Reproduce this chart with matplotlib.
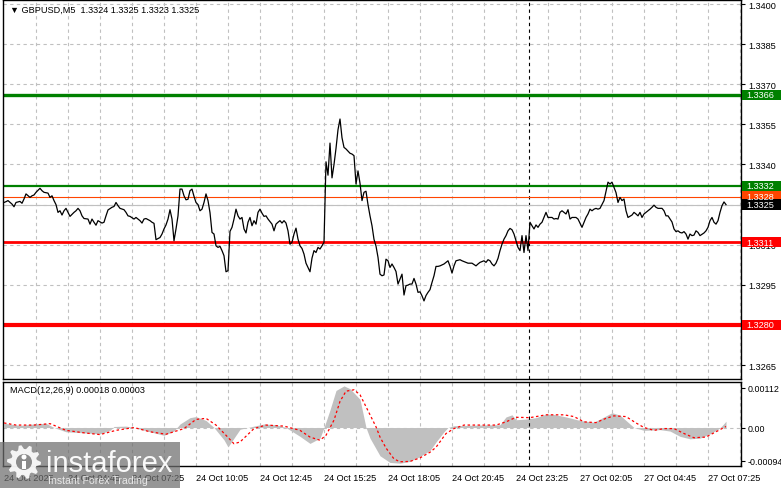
import numpy as np
import matplotlib
matplotlib.use('Agg')
import matplotlib.pyplot as plt
from matplotlib.patches import Rectangle, Circle, Polygon
from matplotlib.transforms import blended_transform_factory

plt.rcParams['font.family'] = ['Liberation Sans', 'DejaVu Sans']

# ---- data (GBPUSD M5, close line) ----
close_pts = [
    (0, 1.33258), (1, 1.33261), (2, 1.33265), (4, 1.33252), (5, 1.33242), (6, 1.33258), (8, 1.33262),
    (9, 1.33255), (10, 1.33271), (11, 1.33290), (13, 1.33277), (14, 1.33283), (15, 1.33286), (16, 1.33296),
    (18, 1.33311), (19, 1.33302), (20, 1.33296), (22, 1.33293), (23, 1.33277), (24, 1.33283), (25, 1.33265),
    (26, 1.33250), (27, 1.33221), (28, 1.33227), (29, 1.33211), (30, 1.33227), (31, 1.33236), (32, 1.33221),
    (33, 1.33206), (35, 1.33221), (36, 1.33227), (37, 1.33236), (38, 1.33227), (39, 1.33208), (40, 1.33198),
    (42, 1.33196), (43, 1.33177), (44, 1.33196), (45, 1.33184), (46, 1.33173), (47, 1.33190), (49, 1.33181),
    (50, 1.33184), (51, 1.33208), (52, 1.33230), (54, 1.33240), (55, 1.33243), (56, 1.33258), (57, 1.33246),
    (58, 1.33236), (60, 1.33231), (61, 1.33221), (62, 1.33208), (63, 1.33206), (65, 1.33196), (66, 1.33202),
    (68, 1.33190), (69, 1.33181), (70, 1.33196), (71, 1.33198), (73, 1.33190), (74, 1.33184), (75, 1.33180),
    (76, 1.33119), (78, 1.33127), (79, 1.33140), (80, 1.33159), (81, 1.33174), (82, 1.33196), (83, 1.33231),
    (84, 1.33196), (85, 1.33115), (86, 1.33159), (87, 1.33208), (88, 1.33308), (89, 1.33308), (90, 1.33283),
    (91, 1.33268), (92, 1.33270), (93, 1.33302), (94, 1.33308), (95, 1.33281), (96, 1.33258), (97, 1.33250),
    (98, 1.33227), (99, 1.33233), (100, 1.33258), (101, 1.33290), (102, 1.33265), (103, 1.33220), (104, 1.33146),
    (105, 1.33140), (106, 1.33096), (107, 1.33090), (108, 1.33094), (109, 1.33078), (110, 1.33059), (111, 1.32999),
    (112, 1.33003), (113, 1.33150), (114, 1.33165), (115, 1.33196), (116, 1.33233), (117, 1.33208), (118, 1.33196),
    (119, 1.33202), (120, 1.33159), (121, 1.33144), (122, 1.33184), (123, 1.33202), (124, 1.33171), (125, 1.33190),
    (126, 1.33177), (127, 1.33221), (128, 1.33233), (129, 1.33218), (130, 1.33206), (131, 1.33208), (132, 1.33196),
    (134, 1.33177), (135, 1.33152), (136, 1.33177), (137, 1.33184), (138, 1.33190), (139, 1.33181), (140, 1.33190),
    (141, 1.33181), (142, 1.33152), (143, 1.33102), (144, 1.33109), (145, 1.33140), (146, 1.33162), (147, 1.33121),
    (148, 1.33096), (149, 1.33086), (150, 1.33065), (151, 1.33031), (152, 1.33015), (153, 1.32999), (154, 1.33050),
    (155, 1.33078), (156, 1.33071), (157, 1.33090), (158, 1.33084), (159, 1.33096), (160, 1.33109), (161, 1.33410),
    (162, 1.33360), (163, 1.33480), (164, 1.33350), (165, 1.33400), (166, 1.33460), (167, 1.33530), (168, 1.33570),
    (169, 1.33500), (170, 1.33464), (171, 1.33458), (172, 1.33450), (173, 1.33442), (174, 1.33439), (175, 1.33433),
    (176, 1.33327), (177, 1.33376), (178, 1.33330), (179, 1.33265), (180, 1.33296), (181, 1.33300), (182, 1.33250),
    (183, 1.33208), (184, 1.33171), (185, 1.33120), (186, 1.33095), (187, 1.33053), (188, 1.32990), (189, 1.32984),
    (190, 1.32987), (191, 1.33046), (192, 1.33040), (193, 1.33015), (194, 1.33028), (195, 1.33015), (196, 1.33000),
    (197, 1.32953), (198, 1.32972), (199, 1.32990), (200, 1.32912), (201, 1.32947), (202, 1.32949), (203, 1.32953),
    (204, 1.32953), (205, 1.32974), (206, 1.32953), (207, 1.32922), (208, 1.32924), (209, 1.32909), (210, 1.32890),
    (211, 1.32910), (212, 1.32922), (213, 1.32932), (214, 1.32959), (215, 1.32984), (216, 1.33019), (217, 1.33019),
    (218, 1.33021), (220, 1.33028), (221, 1.33034), (222, 1.33040), (223, 1.33020), (224, 1.32994), (225, 1.33021),
    (226, 1.33040), (228, 1.33044), (229, 1.33040), (231, 1.33034), (232, 1.33031), (234, 1.33031), (236, 1.33021),
    (237, 1.33028), (238, 1.33034), (240, 1.33040), (241, 1.33034), (242, 1.33044), (243, 1.33040), (244, 1.33028),
    (245, 1.33021), (246, 1.33031), (247, 1.33049), (248, 1.33078), (249, 1.33102), (250, 1.33121), (251, 1.33134),
    (252, 1.33152), (253, 1.33161), (254, 1.33156), (255, 1.33140), (256, 1.33115), (257, 1.33090), (258, 1.33078),
    (259, 1.33134), (260, 1.33071), (261, 1.33134), (262, 1.33078), (263, 1.33184), (264, 1.33171), (265, 1.33159),
    (266, 1.33174), (267, 1.33165), (268, 1.33177), (269, 1.33184), (270, 1.33202), (271, 1.33221), (272, 1.33202),
    (273, 1.33202), (274, 1.33202), (275, 1.33196), (276, 1.33198), (277, 1.33196), (278, 1.33221), (279, 1.33227),
    (281, 1.33215), (282, 1.33231), (283, 1.33196), (284, 1.33202), (286, 1.33202), (287, 1.33196), (289, 1.33165),
    (290, 1.33184), (291, 1.33202), (292, 1.33215), (293, 1.33233), (294, 1.33227), (295, 1.33233), (296, 1.33236),
    (297, 1.33233), (298, 1.33236), (300, 1.33265), (301, 1.33300), (302, 1.33334), (303, 1.33327), (304, 1.33334),
    (305, 1.33315), (306, 1.33295), (307, 1.33258), (308, 1.33277), (309, 1.33265), (310, 1.33271), (311, 1.33227),
    (312, 1.33202), (314, 1.33211), (315, 1.33221), (316, 1.33215), (317, 1.33208), (318, 1.33221), (319, 1.33202),
    (320, 1.33215), (321, 1.33221), (323, 1.33233), (324, 1.33240), (325, 1.33248), (326, 1.33240), (327, 1.33236),
    (329, 1.33236), (330, 1.33227), (331, 1.33208), (332, 1.33208), (334, 1.33185), (335, 1.33159), (336, 1.33149),
    (337, 1.33152), (338, 1.33146), (339, 1.33144), (340, 1.33149), (341, 1.33140), (342, 1.33121), (343, 1.33140),
    (344, 1.33134), (345, 1.33136), (346, 1.33152), (347, 1.33146), (348, 1.33134), (350, 1.33144), (351, 1.33152),
    (352, 1.33165), (353, 1.33190), (354, 1.33202), (355, 1.33184), (356, 1.33177), (357, 1.33190), (358, 1.33221),
    (359, 1.33246), (360, 1.33260), (361, 1.33250),
]

macd_hist = [
    (0, 0.00012), (8, 0.00006), (15, 0.00010), (21, 0.00012), (25, 0.0), (31, -0.00012), (40, -0.00015),
    (48, -0.00018), (53, -0.00008), (55, 0.00003), (61, 0.00004), (65, 0.0), (73, -0.00012), (80, -0.00022),
    (85, -0.00010), (88, 0.00010), (93, 0.00028), (96, 0.00031), (101, 0.00020), (105, 0.0), (110, -0.00035),
    (112, -0.00055), (115, -0.00030), (118, -0.00005), (125, 0.00004), (130, 0.00010), (136, 0.00008), (141, 0.0),
    (148, -0.00025), (153, -0.00045), (158, -0.00030), (160, 0.0), (163, 0.00050), (166, 0.00105), (170, 0.00118),
    (173, 0.00110), (178, 0.00080), (181, 0.0), (183, -0.00030), (188, -0.00080), (193, -0.00099), (198, -0.00101),
    (203, -0.00096), (208, -0.00082), (213, -0.00065), (216, -0.00041), (220, -0.00012), (222, 0.0), (225, 0.00005),
    (238, 0.00007), (248, 0.00008), (251, 0.00030), (254, 0.00036), (256, 0.00022), (261, 0.00024), (266, 0.00028),
    (271, 0.00038), (275, 0.00037), (281, 0.00030), (288, 0.00020), (295, 0.00015), (300, 0.00030), (304, 0.00042),
    (308, 0.00035), (312, 0.00015), (315, 0.0), (320, -0.00008), (328, -0.00006), (333, -0.00010), (338, -0.00025),
    (343, -0.00032), (348, -0.00030), (353, -0.00018), (357, -0.00005), (359, 0.00005), (361, 0.00018),
]

macd_signal = [
    (0, 0.00013), (6, 0.00007), (15, 0.00007), (23, 0.00011), (31, -0.00008), (40, -0.00015), (48, -0.00020),
    (56, -0.00008), (65, 0.0), (73, -0.00012), (81, -0.00019), (90, -0.00003), (96, 0.00023), (101, 0.00026),
    (106, 0.00007), (111, -0.00022), (115, -0.00046), (118, -0.00041), (125, -0.00003), (131, 0.00007),
    (140, 0.00004), (148, -0.00008), (153, -0.00027), (158, -0.00036), (161, -0.00022), (165, 0.00021),
    (168, 0.00074), (171, 0.00103), (175, 0.00107), (178, 0.00093), (181, 0.00059), (186, 0.00002),
    (188, -0.00027), (191, -0.00058), (195, -0.00089), (198, -0.00097), (203, -0.00096), (208, -0.00086),
    (213, -0.00070), (216, -0.00056), (221, -0.00017), (225, -0.00003), (230, 0.00007), (238, 0.00007),
    (246, 0.00007), (251, 0.00016), (256, 0.00029), (263, 0.00028), (271, 0.00036), (280, 0.00036),
    (285, 0.00031), (290, 0.00016), (296, 0.00014), (301, 0.00026), (305, 0.00033), (311, 0.00031),
    (316, 0.00013), (320, 0.0), (325, -0.00008), (330, -0.00003), (335, -0.00003), (340, -0.00017),
    (345, -0.00029), (351, -0.00027), (356, -0.00012), (361, 0.00003),
]

levels = [1.3366, 1.3332, 1.3328, 1.3325, 1.3311, 1.3280]
level_colors = ['#008000', '#008000', '#ff4500', '#c0c0c0', '#ff0000', '#ff0000']
level_widths = [2.4, 1.6, 0.8, 0.8, 2.0, 3.0]
tag_colors = ['#008000', '#008000', '#ff4500', '#000000', '#ff0000', '#ff0000']

price_ticks = [1.3400, 1.3385, 1.3370, 1.3355, 1.3340, 1.3325, 1.3310, 1.3295, 1.3280, 1.3265]
# 1.3325 and 1.3280 scale labels sit fully under the price tags
price_tick_labels = ['1.3400', '1.3385', '1.3370', '1.3355', '1.3340', '', '1.3310', '1.3295', '', '1.3265']
macd_ticks = [0.00112, 0.0, -0.00094]
macd_tick_labels = ['0.00112', '0.00', '-0.00094']

time_bars = [0, 32, 64, 96, 128, 160, 192, 224, 256, 288, 320, 352]
time_labels = ['24 Oct 2025', '24 Oct 04:45', '24 Oct 07:25', '24 Oct 10:05', '24 Oct 12:45',
               '24 Oct 15:25', '24 Oct 18:05', '24 Oct 20:45', '24 Oct 23:25', '27 Oct 02:05',
               '27 Oct 04:45', '27 Oct 07:25']
grid_bars = list(range(16, 369, 16))
day_break = 262.5

title = '\u25bc GBPUSD,M5  1.3324 1.3325 1.3323 1.3325'
macd_title = 'MACD(12,26,9) 0.00018 0.00003'

# ---- figure ----
W, H = 781, 489
fig = plt.figure(figsize=(W / 100, H / 100), dpi=100)
FS = 6.6


def px_axes(x0, y0, x1, y1):
    return fig.add_axes([x0 / W, 1 - y1 / H, (x1 - x0) / W, (y1 - y0) / H])


ax = px_axes(3, 1, 741, 380)
mx = px_axes(3, 383, 741, 467)

grid_kw = dict(color='#c0c0c0', lw=0.8, ls=(0, (3, 3)), zorder=0)

# main price panel
bars = [b for b, _ in close_pts]
closes = [c for _, c in close_pts]
ax.set_xlim(-0.5, 368.5)
ax.set_ylim(1.32598, 1.34015)
for g in grid_bars:
    ax.axvline(g, **grid_kw)
for p in price_ticks:
    ax.axhline(p, **grid_kw)

for lv, c, w in zip(levels, level_colors, level_widths):
    ax.axhline(lv, color=c, lw=w, zorder=2)
ax.plot(bars, closes, color='black', lw=0.9, zorder=3)
ax.axvline(day_break, color='black', lw=0.8, ls=(0, (3, 3)), zorder=1)

ax.yaxis.tick_right()
ax.set_yticks(price_ticks)
ax.set_yticklabels(price_tick_labels)
ax.tick_params(axis='y', direction='out', length=3, width=0.8, pad=2, labelsize=FS)
ax.tick_params(axis='x', bottom=False, labelbottom=False)
for s in ax.spines.values():
    s.set_color('black')
    s.set_linewidth(1.0)
ax.text(7 / 738, 1 - 9 / 379, title, transform=ax.transAxes, fontsize=FS, va='center', ha='left')

# price tags on the right scale
tr = blended_transform_factory(fig.transFigure, ax.transData)
half = 5.2 / 2.674 * 0.0001
for lv, c in zip(levels, tag_colors):
    ax.add_patch(Rectangle((742 / W, lv - half), (W - 742) / W, 2 * half, transform=tr,
                           facecolor=c, edgecolor='none', clip_on=False, zorder=10))
    ax.text(746 / W, lv, '%.4f' % lv, transform=tr, color='white', fontsize=FS,
            va='center', ha='left', clip_on=False, zorder=11)

# MACD panel
hb = [b for b, _ in macd_hist]
hv = [v for _, v in macd_hist]
sb = [b for b, _ in macd_signal]
sv = [v for _, v in macd_signal]
mx.set_xlim(-0.5, 368.5)
mx.set_ylim(-0.00109, 0.00129)
for g in grid_bars:
    mx.axvline(g, **grid_kw)
mx.axhline(0, **grid_kw)
mx.fill_between(hb, 0, hv, color='#c0c0c0', lw=0, zorder=1)
mx.plot(sb, sv, color='#ff0000', lw=0.9, ls=(0, (2, 2)), zorder=3)
mx.axvline(day_break, color='black', lw=0.8, ls=(0, (3, 3)), zorder=2)

mx.yaxis.tick_right()
mx.set_yticks(macd_ticks)
mx.set_yticklabels(macd_tick_labels)
mx.tick_params(axis='y', direction='out', length=3, width=0.8, pad=1.5, labelsize=FS - 0.2)
mx.set_xticks(time_bars)
mx.set_xticklabels(time_labels, ha='left')
mx.tick_params(axis='x', length=0, pad=5, labelsize=FS)
for s in mx.spines.values():
    s.set_color('black')
    s.set_linewidth(1.0)
mx.text(7 / 738, 1 - 8 / 84, macd_title, transform=mx.transAxes, fontsize=FS, va='center', ha='left')

# watermark overlay in pixel coordinates
ov = fig.add_axes([0, 0, 1, 1], zorder=20)
ov.set_xlim(0, W)
ov.set_ylim(H, 0)
ov.axis('off')
ov.patch.set_alpha(0)
ov.add_patch(Rectangle((0, 443), 180, 46, facecolor='#6e6e6e', alpha=0.72, edgecolor='none'))
ang = np.linspace(0, 2 * np.pi, 40, endpoint=False)
rad = np.where((np.arange(40) // 2) % 2 == 0, 17, 13)
ov.add_patch(Polygon(np.column_stack([24 + rad * np.cos(ang), 463 + rad * np.sin(ang)]),
                     closed=True, facecolor='white', edgecolor='none', alpha=0.9))
ov.add_patch(Circle((24, 463), 8, facecolor='#8a8a8a', edgecolor='none'))
ov.add_patch(Circle((24, 458), 2.5, facecolor='white', edgecolor='none'))
ov.add_patch(Rectangle((22, 462), 4, 8, facecolor='white', edgecolor='none'))
ov.text(46, 464, 'instaforex', color='white', fontsize=21, va='center', ha='left', alpha=0.95)
ov.text(48, 481, 'Instant Forex Trading', color='#e8e8e8', fontsize=7.6, va='center', ha='left')

fig.savefig('out.png', dpi=100, facecolor='white')
